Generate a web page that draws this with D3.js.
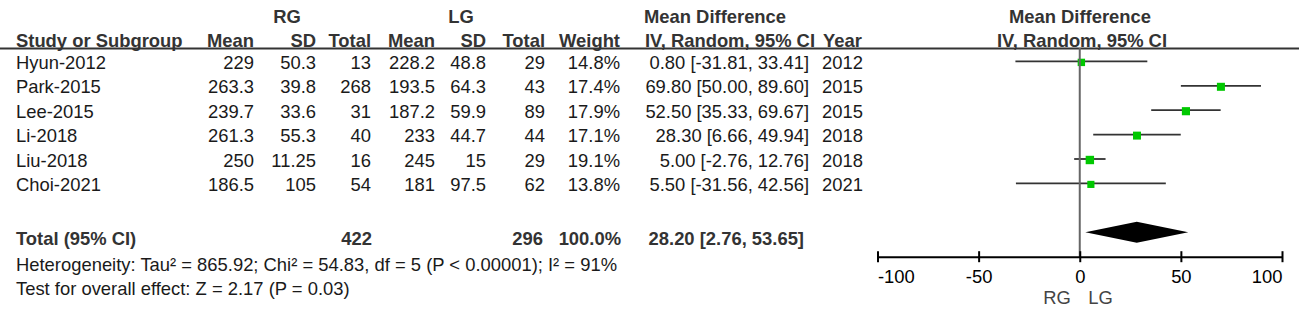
<!DOCTYPE html>
<html>
<head>
<meta charset="utf-8">
<script src="https://cdn.jsdelivr.net/npm/d3@7"></script>
<style>
  body { margin: 0; background: #fff; }
  text { font-family: "Liberation Sans", Arial, sans-serif; }
</style>
</head>
<body>
<div id="container"></div>
<script>
let w = 1299;
let h = 318;

// data
let studies = ["Hyun-2012", "Park-2015", "Lee-2015", "Li-2018", "Liu-2018", "Choi-2021"];
let rgMean = [229, 263.3, 239.7, 261.3, 250, 186.5];
let rgSD = [50.3, 39.8, 33.6, 55.3, 11.25, 105];
let rgTotal = [13, 268, 31, 40, 16, 54];
let lgMean = [228.2, 193.5, 187.2, 233, 245, 181];
let lgSD = [48.8, 64.3, 59.9, 44.7, 15, 97.5];
let lgTotal = [29, 43, 89, 44, 29, 62];
let weights = [14.8, 17.4, 17.9, 17.1, 19.1, 13.8];
let md = [0.80, 69.80, 52.50, 28.30, 5.00, 5.50];
let ciLow = [-31.81, 50.00, 35.33, 6.66, -2.76, -31.56];
let ciHigh = [33.41, 89.60, 69.67, 49.94, 12.76, 42.56];
let years = [2012, 2015, 2015, 2018, 2018, 2021];

let totalRG = 422;
let totalLG = 296;
let totalWeight = 100.0;
let totalMD = 28.20;
let totalLow = 2.76;
let totalHigh = 53.65;

let axisTicks = [-100, -50, 0, 50, 100];
let heterogeneity = "Heterogeneity: Tau² = 865.92; Chi² = 54.83, df = 5 (P < 0.00001); I² = 91%";
let overall = "Test for overall effect: Z = 2.17 (P = 0.03)";

let viz = d3.select("#container")
  .append("svg")
    .attr("width", w)
    .attr("height", h)
    .style("background-color", "white")
;

let fontSize = 18.4;
let textColor = "#1a1a1a";
let headColor = "#333";

let rowY = d3.scaleLinear().domain([0, 1]).range([62.4, 86.8]);
let xScale = d3.scaleLinear().domain([-100, 100]).range([877.5, 1282]);
let sizeScale = d3.scaleSqrt().domain([0, 19.1]).range([0, 8.4]);

function fmt(v) { return v.toFixed(2); }
function ciText(m, lo, hi) { return fmt(m) + " [" + fmt(lo) + ", " + fmt(hi) + "]"; }

// columns: x anchor and alignment
let cols = [
  { x: 254, anchor: "end" },
  { x: 316, anchor: "end" },
  { x: 371, anchor: "end" },
  { x: 435, anchor: "end" },
  { x: 486, anchor: "end" },
  { x: 545, anchor: "end" },
  { x: 620, anchor: "end" },
  { x: 809, anchor: "end" },
  { x: 822, anchor: "start" }
];

// header
function headText(x, y, s, anchor) {
  viz.append("text")
    .attr("x", x).attr("y", y)
    .attr("text-anchor", anchor)
    .style("font-size", fontSize + "px")
    .style("font-weight", "bold")
    .attr("fill", headColor)
    .text(s);
}

headText(287, 23, "RG", "middle");
headText(461, 23, "LG", "middle");
headText(644, 23, "Mean Difference", "start");
headText(1080, 23, "Mean Difference", "middle");

let head2 = ["Mean", "SD", "Total", "Mean", "SD", "Total", "Weight"];
headText(16, 47, "Study or Subgroup", "start");
head2.forEach(function(s, i) { headText(cols[i].x, 47, s, "end"); });
headText(645, 47, "IV, Random, 95% CI", "start");
headText(823, 47, "Year", "start");
headText(1082, 47, "IV, Random, 95% CI", "middle");

viz.append("line")
  .attr("x1", 0).attr("x2", w)
  .attr("y1", 48.5).attr("y2", 48.5)
  .attr("stroke", "#333")
  .attr("stroke-width", 2);

// study rows
let rows = studies.map(function(s, i) {
  return {
    name: s,
    cells: [rgMean[i], rgSD[i], rgTotal[i], lgMean[i], lgSD[i], lgTotal[i],
            weights[i].toFixed(1) + "%", ciText(md[i], ciLow[i], ciHigh[i]), years[i]],
    md: md[i], lo: ciLow[i], hi: ciHigh[i], weight: weights[i]
  };
});

let rowGroups = viz.selectAll(".row").data(rows).enter()
  .append("g")
    .classed("row", true)
    .attr("transform", function(d, i) { return "translate(0," + rowY(i) + ")"; })
;

rowGroups.append("text")
  .attr("x", 16).attr("y", 6.5)
  .style("font-size", fontSize + "px")
  .attr("fill", textColor)
  .text(function(d) { return d.name; });

rowGroups.each(function(d) {
  let g = d3.select(this);
  d.cells.forEach(function(c, j) {
    g.append("text")
      .attr("x", cols[j].x).attr("y", 6.5)
      .attr("text-anchor", cols[j].anchor)
      .style("font-size", fontSize + "px")
      .attr("fill", textColor)
      .text(c);
  });
});

// zero line
viz.append("line")
  .attr("x1", xScale(0)).attr("x2", xScale(0))
  .attr("y1", 48).attr("y2", 257)
  .attr("stroke", "#666")
  .attr("stroke-width", 2);

// CI lines and squares
rowGroups.append("line")
  .attr("x1", function(d) { return xScale(d.lo); })
  .attr("x2", function(d) { return xScale(d.hi); })
  .attr("y1", -1).attr("y2", -1)
  .attr("stroke", "#333")
  .attr("stroke-width", 1.8);

rowGroups.append("rect")
  .attr("x", function(d) { return xScale(d.md) - sizeScale(d.weight) / 2; })
  .attr("y", function(d) { return -sizeScale(d.weight) / 2; })
  .attr("width", function(d) { return sizeScale(d.weight); })
  .attr("height", function(d) { return sizeScale(d.weight); })
  .attr("fill", "#00c800");

// total row
let totalY = 245;
function boldText(x, y, s, anchor) {
  viz.append("text")
    .attr("x", x).attr("y", y)
    .attr("text-anchor", anchor)
    .style("font-size", fontSize + "px")
    .style("font-weight", "bold")
    .attr("fill", headColor)
    .text(s);
}
boldText(16, totalY, "Total (95% CI)", "start");
boldText(372, totalY, totalRG, "end");
boldText(543, totalY, totalLG, "end");
boldText(621, totalY, totalWeight.toFixed(1) + "%", "end");
boldText(804, totalY, ciText(totalMD, totalLow, totalHigh), "end");

viz.append("text")
  .attr("x", 16).attr("y", 271)
  .style("font-size", fontSize + "px")
  .attr("fill", textColor)
  .text(heterogeneity);

viz.append("text")
  .attr("x", 16).attr("y", 295)
  .style("font-size", fontSize + "px")
  .attr("fill", textColor)
  .text(overall);

// diamond
let dy = 232.3;
viz.append("polygon")
  .attr("points", [
    [xScale(totalLow), dy], [xScale(totalMD), dy - 10.5],
    [xScale(totalHigh), dy], [xScale(totalMD), dy + 10.5]
  ].map(function(p) { return p.join(","); }).join(" "))
  .attr("fill", "black");

// axis
let axis = viz.append("g")
  .attr("transform", "translate(0,256.7)")
  .call(d3.axisBottom(xScale)
    .tickValues(axisTicks)
    .tickFormat(function(d) { return String(d); })
    .tickSize(5.5)
    .tickSizeOuter(0));

axis.select(".domain").attr("stroke", "black").attr("stroke-width", 2);
axis.selectAll(".tick line")
  .attr("y1", -5.5).attr("y2", 5.5)
  .attr("stroke", "black").attr("stroke-width", 2);
axis.selectAll(".tick text")
  .attr("y", 26)
  .attr("dy", 0)
  .style("font-size", fontSize + "px")
  .style("font-family", "'Liberation Sans', Arial, sans-serif")
  .attr("fill", "black")
  .attr("text-anchor", function(d, i) {
    if (i == 0) return "start";
    if (i == axisTicks.length - 1) return "end";
    return "middle";
  });

viz.append("text")
  .attr("x", xScale(0) - 9).attr("y", 304)
  .attr("text-anchor", "end")
  .style("font-size", fontSize + "px")
  .attr("fill", "#444")
  .text("RG");
viz.append("text")
  .attr("x", xScale(0) + 8.5).attr("y", 304)
  .attr("text-anchor", "start")
  .style("font-size", fontSize + "px")
  .attr("fill", "#444")
  .text("LG");
</script>
</body>
</html>
